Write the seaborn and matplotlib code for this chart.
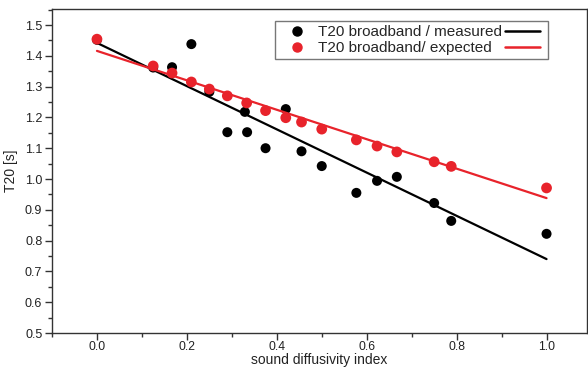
import numpy as np
import pandas as pd
import matplotlib
matplotlib.use("Agg")
import matplotlib.pyplot as plt
import seaborn as sns
from matplotlib.ticker import MultipleLocator
from matplotlib.lines import Line2D

# ---- data ----
x_measured = [0.0, 0.125, 0.167, 0.21, 0.25, 0.29, 0.329, 0.334, 0.375, 0.42, 0.455,
              0.5, 0.577, 0.623, 0.667, 0.75, 0.788, 1.0]
t20_measured = [1.452, 1.362, 1.363, 1.438, 1.283, 1.152, 1.218, 1.152, 1.100, 1.227, 1.090,
                1.042, 0.955, 0.994, 1.007, 0.922, 0.864, 0.822]

x_expected = [0.0, 0.125, 0.167, 0.21, 0.25, 0.29, 0.333, 0.375, 0.42, 0.455, 0.5,
              0.577, 0.623, 0.667, 0.75, 0.788, 1.0]
t20_expected = [1.454, 1.367, 1.344, 1.315, 1.292, 1.270, 1.247, 1.222, 1.199, 1.185, 1.162,
                1.127, 1.107, 1.088, 1.056, 1.041, 0.971]

fit_x = [0.0, 1.0]
fit_measured = [1.442, 0.740]
fit_expected = [1.416, 0.938]

label_measured = "T20 broadband / measured"
label_expected = "T20 broadband/ expected"

RED = "#e8232b"

sns.set_style("ticks")
plt.rcParams["font.family"] = ["Liberation Sans", "DejaVu Sans"]

fig = plt.figure(figsize=(5.88, 3.67), dpi=100)
ax = fig.add_axes([52 / 588, 34 / 367, 535 / 588, 324 / 367])

df_m = pd.DataFrame({"x": x_measured, "y": t20_measured})
df_e = pd.DataFrame({"x": x_expected, "y": t20_expected})
df_fm = pd.DataFrame({"x": fit_x, "y": fit_measured})
df_fe = pd.DataFrame({"x": fit_x, "y": fit_expected})

sns.scatterplot(data=df_m, x="x", y="y", ax=ax, color="black", s=52,
                edgecolor="none", zorder=3)
sns.lineplot(data=df_fm, x="x", y="y", ax=ax, color="black", lw=1.6, zorder=2)
sns.scatterplot(data=df_e, x="x", y="y", ax=ax, color=RED, s=60,
                edgecolor="none", zorder=4)
sns.lineplot(data=df_fe, x="x", y="y", ax=ax, color=RED, lw=1.6, zorder=5)

ax.set_xlim(-0.1, 1.09)
ax.set_ylim(0.5, 1.552)
ax.xaxis.set_minor_locator(MultipleLocator(0.1))
ax.yaxis.set_major_locator(MultipleLocator(0.1))
ax.yaxis.set_minor_locator(MultipleLocator(0.05))
ax.set_xticks([0.0, 0.2, 0.4, 0.6, 0.8, 1.0])
ax.set_xticklabels(["0.0", "0.2", "0.4", "0.6", "0.8", "1.0"])
ax.tick_params(axis="both", which="major", direction="out", length=5, width=1,
               labelsize=9, colors="#333333", pad=2)
ax.tick_params(axis="x", which="major", pad=1, labelsize=8.7)
ax.tick_params(axis="both", which="minor", direction="out", length=3, width=1,
               colors="#333333")
ax.tick_params(labelcolor="#222222")

for side in ["left", "bottom", "top", "right"]:
    ax.spines[side].set_visible(True)
    ax.spines[side].set_color("#333333")
    ax.spines[side].set_linewidth(1.0)

ax.set_xlabel("sound diffusivity index", fontsize=10, labelpad=0, color="#222222")
ax.set_ylabel("T20 [s]", fontsize=10, labelpad=5, color="#222222")

h_m = Line2D([], [], marker="o", ls="none", color="black", markersize=6.5)
h_e = Line2D([], [], marker="o", ls="none", color=RED, markersize=6.5)
l_m = Line2D([], [], color="black", lw=1.8)
l_e = Line2D([], [], color=RED, lw=1.8)
leg = ax.legend([h_m, h_e, l_m, l_e], [label_measured, label_expected, "", ""],
                ncol=2, loc="upper right", bbox_to_anchor=(0.927, 0.962),
                borderaxespad=0, fontsize=11, frameon=True, fancybox=False,
                handlelength=2.3, handletextpad=0.25, columnspacing=0.2,
                labelspacing=0.15, borderpad=0.25)
leg.get_frame().set_edgecolor("#555555")
leg.get_frame().set_linewidth(1.0)

fig.savefig("out.png", dpi=100)
